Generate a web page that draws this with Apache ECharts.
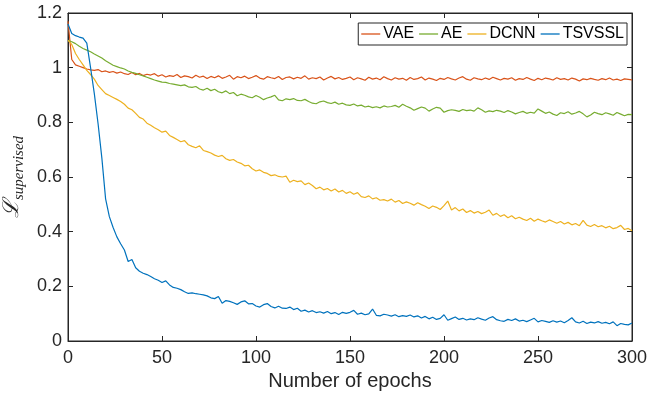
<!DOCTYPE html>
<html style="height: 100%">
<head>
<meta charset="utf-8">
</head>
<body style="height: 100%; margin: 0; background: #fff">
	<div id="container" style="width: 648px; height: 399px"></div>
	<script type="text/javascript" src="https://cdn.jsdelivr.net/npm/echarts/dist/echarts.min.js"></script>
	<script type="text/javascript">
		// loss, one value every 2 epochs (0..300)
		var epochs = [];
		for (var i = 0; i <= 150; i++) {
			epochs.push(i * 2);
		}
		var vae = [
			1.170, 1.030, 1.010, 1.005, 1.000, 0.995, 0.992, 0.990, 0.993, 0.985,
			0.988, 0.983, 0.986, 0.980, 0.984, 0.978, 0.975, 0.982, 0.974, 0.979,
			0.971, 0.976, 0.973, 0.978, 0.969, 0.974, 0.966, 0.971, 0.968, 0.975,
			0.964, 0.970, 0.967, 0.962, 0.972, 0.965, 0.969, 0.960, 0.968, 0.963,
			0.970, 0.961, 0.966, 0.972, 0.958, 0.967, 0.963, 0.969, 0.960, 0.965,
			0.971, 0.962, 0.958, 0.967, 0.963, 0.960, 0.968, 0.957, 0.964, 0.966,
			0.959, 0.965, 0.961, 0.970, 0.958, 0.963, 0.960, 0.966, 0.955, 0.962,
			0.968, 0.959, 0.964, 0.957, 0.961, 0.966, 0.956, 0.963, 0.959, 0.954,
			0.965, 0.958, 0.962, 0.956, 0.967, 0.960, 0.955, 0.963, 0.958, 0.961,
			0.954, 0.964, 0.957, 0.960, 0.966, 0.955, 0.962, 0.958, 0.953, 0.961,
			0.957, 0.964, 0.959, 0.955, 0.962, 0.967, 0.958, 0.954, 0.963, 0.959,
			0.956, 0.962, 0.957, 0.965, 0.960, 0.955, 0.961, 0.958, 0.963, 0.954,
			0.960, 0.957, 0.964, 0.958, 0.953, 0.961, 0.956, 0.962, 0.959, 0.955,
			0.963, 0.957, 0.960, 0.955, 0.962, 0.958, 0.951, 0.959, 0.956, 0.961,
			0.957, 0.954, 0.960, 0.956, 0.962, 0.955, 0.958, 0.953, 0.959, 0.957,
			0.955
		];
		var ae = [
			1.100, 1.095, 1.088, 1.078, 1.070, 1.064, 1.058, 1.050, 1.043, 1.035,
			1.025, 1.017, 1.009, 1.004, 0.999, 0.995, 0.988, 0.983, 0.979, 0.974,
			0.970, 0.965, 0.960, 0.955, 0.951, 0.947, 0.946, 0.942, 0.940, 0.937,
			0.934, 0.937, 0.930, 0.928, 0.931, 0.922, 0.918, 0.925, 0.916, 0.921,
			0.912, 0.908, 0.915, 0.905, 0.909, 0.897, 0.903, 0.899, 0.893, 0.890,
			0.898, 0.892, 0.883, 0.889, 0.893, 0.899, 0.882, 0.879, 0.886, 0.883,
			0.887, 0.880, 0.879, 0.884, 0.876, 0.870, 0.868, 0.875, 0.878, 0.872,
			0.869, 0.874, 0.866, 0.870, 0.864, 0.862, 0.867, 0.860, 0.863, 0.856,
			0.859, 0.854, 0.857, 0.853, 0.860, 0.856, 0.858, 0.862, 0.855, 0.866,
			0.859, 0.853, 0.844, 0.850, 0.856, 0.852, 0.841, 0.849, 0.855, 0.852,
			0.837, 0.843, 0.846, 0.844, 0.840, 0.847, 0.843, 0.845, 0.841, 0.853,
			0.846, 0.837, 0.842, 0.839, 0.844, 0.841, 0.836, 0.843, 0.838, 0.831,
			0.836, 0.840, 0.833, 0.837, 0.834, 0.849, 0.841, 0.833, 0.838, 0.830,
			0.825, 0.835, 0.832, 0.839, 0.830, 0.834, 0.840, 0.831, 0.820, 0.827,
			0.837, 0.832, 0.828, 0.835, 0.831, 0.826, 0.836, 0.830, 0.824, 0.829,
			0.828
		];
		var dcnn = [
			1.100, 1.085, 1.052, 1.030, 1.010, 0.990, 0.975, 0.958, 0.935, 0.920,
			0.905, 0.898, 0.891, 0.884, 0.876, 0.866, 0.852, 0.846, 0.833, 0.818,
			0.812, 0.797, 0.789, 0.780, 0.773, 0.764, 0.768, 0.752, 0.745, 0.737,
			0.729, 0.733, 0.718, 0.712, 0.707, 0.714, 0.697, 0.693, 0.688, 0.680,
			0.675, 0.679, 0.667, 0.661, 0.664, 0.655, 0.650, 0.641, 0.643, 0.630,
			0.622, 0.626, 0.617, 0.613, 0.605, 0.608, 0.602, 0.600, 0.603, 0.581,
			0.588, 0.583, 0.586, 0.572, 0.578, 0.569, 0.557, 0.563, 0.553, 0.558,
			0.549, 0.556, 0.545, 0.551, 0.540, 0.546, 0.537, 0.543, 0.528, 0.525,
			0.531, 0.520, 0.524, 0.515, 0.517, 0.512, 0.519, 0.508, 0.514, 0.503,
			0.509, 0.504, 0.497, 0.506, 0.499, 0.493, 0.485, 0.494, 0.489, 0.481,
			0.495, 0.512, 0.479, 0.488, 0.476, 0.483, 0.470, 0.477, 0.468, 0.474,
			0.466, 0.471, 0.479, 0.460, 0.467, 0.456, 0.462, 0.451, 0.458, 0.447,
			0.453, 0.446, 0.441, 0.449, 0.438, 0.446, 0.440, 0.435, 0.443, 0.437,
			0.431, 0.437, 0.428, 0.434, 0.425, 0.430, 0.422, 0.441, 0.424, 0.419,
			0.426, 0.418, 0.422, 0.414, 0.420, 0.411, 0.415, 0.423, 0.408, 0.412,
			0.403
		];
		var tsvssl = [
			1.160, 1.125, 1.117, 1.112, 1.108, 1.090, 1.000, 0.905, 0.795, 0.670,
			0.520, 0.455, 0.415, 0.381, 0.356, 0.333, 0.291, 0.298, 0.268, 0.255,
			0.248, 0.243, 0.236, 0.228, 0.222, 0.214, 0.220, 0.205, 0.196, 0.193,
			0.188, 0.180, 0.174, 0.176, 0.173, 0.171, 0.169, 0.165, 0.158, 0.155,
			0.163, 0.138, 0.148, 0.145, 0.140, 0.134, 0.143, 0.147, 0.136, 0.137,
			0.128, 0.124, 0.133, 0.137, 0.126, 0.121, 0.127, 0.120, 0.119, 0.124,
			0.115, 0.120, 0.109, 0.113, 0.106, 0.111, 0.104, 0.107, 0.102, 0.108,
			0.100, 0.104, 0.097, 0.105, 0.101, 0.105, 0.112, 0.098, 0.102, 0.096,
			0.099, 0.117, 0.094, 0.092, 0.098, 0.095, 0.091, 0.096, 0.089, 0.093,
			0.090, 0.095, 0.088, 0.092, 0.084, 0.090, 0.081, 0.087, 0.079, 0.083,
			0.096, 0.076, 0.082, 0.088, 0.079, 0.083, 0.077, 0.081, 0.078, 0.085,
			0.080, 0.076, 0.084, 0.089, 0.078, 0.074, 0.072, 0.079, 0.075, 0.081,
			0.073, 0.076, 0.071, 0.077, 0.083, 0.070, 0.075, 0.072, 0.068, 0.074,
			0.069, 0.073, 0.067, 0.075, 0.085, 0.070, 0.066, 0.072, 0.064, 0.069,
			0.066, 0.071, 0.065, 0.068, 0.063, 0.070, 0.056, 0.064, 0.061, 0.059,
			0.066
		];
		var names = [ 'VAE', 'AE', 'DCNN', 'TSVSSL' ];
		var colors = [ '#D95319', '#77AC30', '#EDB120', '#0072BD' ];

		function pairs(values) {
			var out = [];
			for (var i = 0; i < values.length; i++) {
				out.push([ epochs[i], values[i] ]);
			}
			return out;
		}

		var axisColor = '#262626';
		var font = 'Liberation Sans, Arial, Helvetica, sans-serif';
		var tickStyle = { show : true, inside : true, length : 5, lineStyle : { color : axisColor } };

		var dom = document.getElementById('container');
		var myChart = echarts.init(dom, null, { renderer : 'canvas' });
		var allData = [ vae, ae, dcnn, tsvssl ];
		var series = [];
		for (var k = 0; k < names.length; k++) {
			series.push({
				name : names[k],
				type : 'line',
				xAxisIndex : 0,
				yAxisIndex : 0,
				symbol : 'none',
				smooth : false,
				lineStyle : { width : 1.2, color : colors[k] },
				itemStyle : { color : colors[k] },
				data : pairs(allData[k])
			});
		}

		var option = {
			animation : false,
			backgroundColor : '#ffffff',
			color : colors,
			grid : {
				left : 68, right : 16, top : 13, bottom : 58,
				containLabel : false, outerBoundsMode : 'none',
				show : true, borderColor : axisColor, borderWidth : 1
			},
			legend : {
				right : 21, top : 23,
				data : names,
				icon : 'rect',
				itemWidth : 19, itemHeight : 1.3, itemGap : 5,
				padding : [ 3, 3, 3, 3 ],
				backgroundColor : '#ffffff',
				borderColor : axisColor, borderWidth : 1, borderRadius : 0,
				textStyle : { fontFamily : font, fontSize : 16, color : '#000', padding : [ 0, 0, 0, -2 ] }
			},
			xAxis : [ {
				type : 'value', min : 0, max : 300, interval : 50,
				name : 'Number of epochs', nameLocation : 'middle', nameGap : 28,
				nameTextStyle : { fontFamily : font, fontSize : 20, color : axisColor },
				axisLine : { show : true, onZero : false, lineStyle : { color : axisColor } },
				axisTick : tickStyle,
				axisLabel : { fontFamily : font, fontSize : 18, color : axisColor, margin : 8 },
				splitLine : { show : false }
			}, {
				type : 'value', min : 0, max : 300, interval : 50, position : 'top',
				axisLine : { show : true, onZero : false, lineStyle : { color : axisColor } },
				axisTick : tickStyle, axisLabel : { show : false }, splitLine : { show : false }
			} ],
			yAxis : [ {
				type : 'value', min : 0, max : 1.2, interval : 0.2,
				name : '{L|ℒ}{s|supervised}', nameLocation : 'middle', nameRotate : 90, nameGap : 36,
				nameTextStyle : {
					rich : {
						L : { fontFamily : 'DejaVu Serif', fontStyle : 'italic', fontSize : 22, color : axisColor, lineHeight : 28 },
						s : { fontFamily : 'Liberation Serif', fontStyle : 'italic', fontSize : 15, color : axisColor, verticalAlign : 'bottom', lineHeight : 16 }
					}
				},
				axisLine : { show : true, onZero : false, lineStyle : { color : axisColor } },
				axisTick : tickStyle,
				axisLabel : {
					fontFamily : font, fontSize : 18, color : axisColor, margin : 6,
					formatter : function(v) { return String(Math.round(v * 10) / 10); }
				},
				splitLine : { show : false }
			}, {
				type : 'value', min : 0, max : 1.2, interval : 0.2, position : 'right',
				axisLine : { show : true, onZero : false, lineStyle : { color : axisColor } },
				axisTick : tickStyle, axisLabel : { show : false }, splitLine : { show : false }
			} ],
			series : series
		};
		myChart.setOption(option);
	</script>
</body>
</html>
